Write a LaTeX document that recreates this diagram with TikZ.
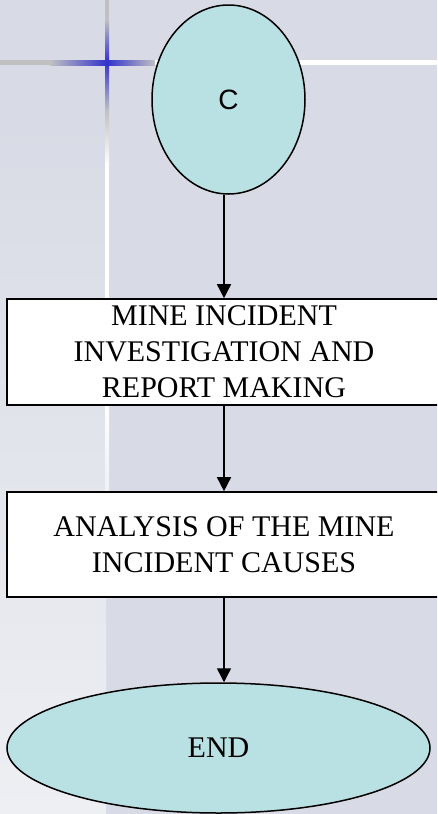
\documentclass[tikz,border=0pt]{standalone}
\usepackage{fontspec}
\newfontfamily\serifface{Liberation Serif}
\newfontfamily\sansface{Liberation Sans}
\usetikzlibrary{shapes.geometric,arrows.meta}
\definecolor{bgmain}{RGB}{216,219,229}
\definecolor{bgstrip}{RGB}{238,239,243}
\definecolor{linegrey}{RGB}{192,192,194}
\definecolor{crossblue}{RGB}{50,50,205}
\definecolor{termfill}{RGB}{185,224,227}
\tikzset{
  terminal/.style={ellipse,draw=black,line width=1.5pt,fill=termfill,inner sep=0pt},
  procbox/.style={rectangle,draw=black,line width=1.6pt,fill=white,inner sep=0pt,
    minimum width=434pt,align=center,font=\serifface\fontsize{30}{36}\selectfont},
  flowarrow/.style={line width=1.5pt,-{Triangle[length=14pt,width=14pt]}}
}
\begin{document}
\begin{tikzpicture}[x=1pt,y=-1pt]
\useasboundingbox (0,0) rectangle (437,814);
\clip (0,0) rectangle (437,814);
% background
\fill[bgmain] (0,0) rectangle (437,814);
\shade[top color=bgmain,bottom color=bgstrip] (0,120) rectangle (106,814);
% vertical line
\fill[linegrey] (105,0) rectangle (109,20);
\shade[top color=linegrey,bottom color=crossblue] (105,20) rectangle (109,62);
\shade[top color=crossblue,bottom color=linegrey] (105,62) rectangle (109,110);
\shade[top color=linegrey,bottom color=white] (105,110) rectangle (109,165);
\fill[white] (105,165) rectangle (109,400);
\shade[top color=white,bottom color=bgstrip] (105,400) rectangle (109,500);
% horizontal line
\fill[linegrey] (0,60) rectangle (50,65);
\shade[left color=linegrey,right color=crossblue] (50,60) rectangle (107,65);
\shade[left color=crossblue,right color=linegrey] (107,60) rectangle (155,65);
\fill[white] (155,60) rectangle (437,65);
% nodes
\node[terminal,minimum width=153pt,minimum height=189pt,font=\sansface\fontsize{28}{32}\selectfont]
  (c) at (228.5,99.5) {C};
\node[procbox,minimum height=106pt] (inv) at (224,352)
  {MINE INCIDENT\\INVESTIGATION AND\\REPORT MAKING};
\node[procbox,minimum height=105pt] (ana) at (224,544.5)
  {ANALYSIS OF THE MINE\\INCIDENT CAUSES};
\node[terminal,minimum width=423pt,minimum height=130pt,font=\serifface\fontsize{30}{36}\selectfont]
  (end) at (218.5,748) {END};
% connectors
\draw[flowarrow] (inv.north |- c.south) -- (inv.north);
\draw[flowarrow] (inv.south) -- (ana.north);
\draw[flowarrow] (ana.south) -- (ana.south |- end.north);
\end{tikzpicture}
\end{document}
